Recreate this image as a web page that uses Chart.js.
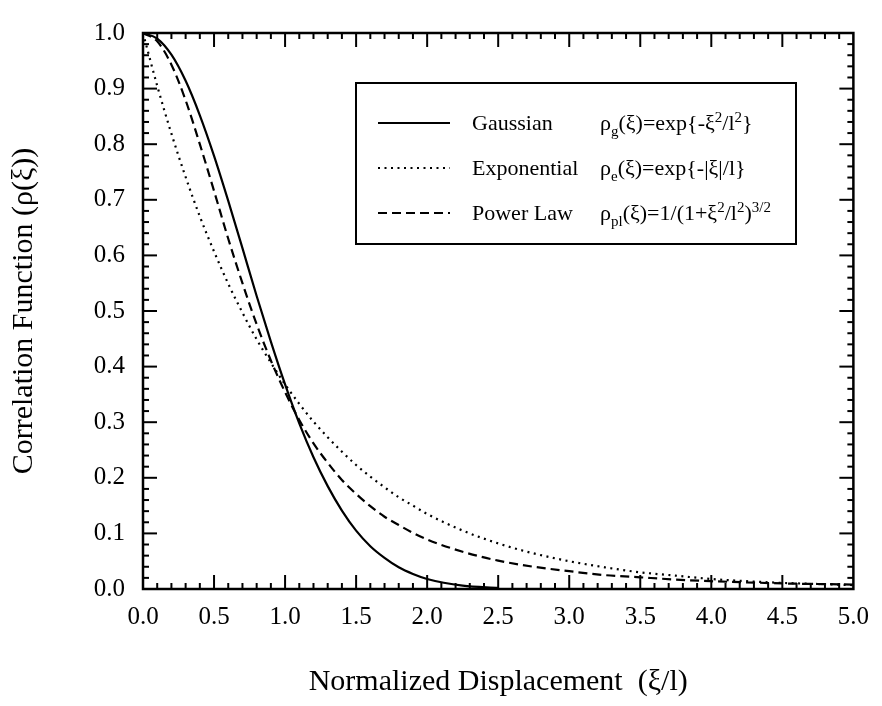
<!DOCTYPE html>
<html>
<head>
<meta charset="utf-8">
<script src="https://cdn.jsdelivr.net/npm/chart.js@4.4.0/dist/chart.umd.min.js"></script>
<style>
  html, body { margin: 0; padding: 0; background: #fff; }
</style>
</head>
<body>
<canvas id="myChart" width="882" height="706"></canvas>
<script>
const xs = [0, 0.1, 0.2, 0.3, 0.4, 0.5, 0.6, 0.7, 0.8, 0.9,
            1.0, 1.1, 1.2, 1.3, 1.4, 1.5, 1.6, 1.7, 1.8, 1.9,
            2.0, 2.25, 2.5, 2.75, 3.0, 3.25, 3.5, 3.75, 4.0, 4.25,
            4.5, 4.75, 5.0];

// Gaussian - stops once it sits on the axis
const gaussian = [1.0, 0.990, 0.961, 0.914, 0.852, 0.779, 0.698, 0.613, 0.527, 0.445,
                  0.368, 0.298, 0.237, 0.185, 0.141, 0.105, 0.077, 0.056, 0.039, 0.027,
                  0.018, 0.006, 0.002, null, null, null, null, null, null, null,
                  null, null, null];

const exponential = [1.0, 0.905, 0.819, 0.741, 0.670, 0.607, 0.549, 0.497, 0.449, 0.407,
                     0.368, 0.333, 0.301, 0.273, 0.247, 0.223, 0.202, 0.183, 0.165, 0.150,
                     0.135, 0.105, 0.082, 0.064, 0.050, 0.039, 0.030, 0.024, 0.018, 0.014,
                     0.011, 0.009, 0.007];

const powerLaw = [1.0, 0.985, 0.943, 0.879, 0.800, 0.716, 0.630, 0.550, 0.476, 0.411,
                  0.354, 0.304, 0.262, 0.227, 0.196, 0.171, 0.149, 0.130, 0.115, 0.101,
                  0.089, 0.067, 0.051, 0.040, 0.032, 0.025, 0.021, 0.017, 0.014, 0.012,
                  0.010, 0.009, 0.008];

const seriesNames = ['Gaussian', 'Exponential', 'Power Law'];

// formulas as runs of text, s = sub / sup
const formulas = [
  [{t: 'ρ'}, {t: 'g', s: 'sub'}, {t: '(ξ)=exp{-ξ'}, {t: '2', s: 'sup'}, {t: '/l'}, {t: '2', s: 'sup'}, {t: '}'}],
  [{t: 'ρ'}, {t: 'e', s: 'sub'}, {t: '(ξ)=exp{-|ξ|/l}'}],
  [{t: 'ρ'}, {t: 'pl', s: 'sub'}, {t: '(ξ)=1/(1+ξ'}, {t: '2', s: 'sup'}, {t: '/l'}, {t: '2', s: 'sup'}, {t: ')'}, {t: '3/2', s: 'sup'}]
];

const SERIF = '"Liberation Serif", "Times New Roman", serif';
const dashes = [[], [2, 4.5], [9, 5]];

let pts = (arr) => xs.map((x, i) => ({x: x, y: arr[i]})).filter(p => p.y !== null);

let framePlugin = {
  id: 'frame',
  afterDatasetsDraw(chart) {
    const {ctx, chartArea: a, scales: {x, y}} = chart;
    ctx.save();
    ctx.strokeStyle = '#000';
    ctx.lineWidth = 2;
    ctx.lineCap = 'butt';
    let seg = (x1, y1, x2, y2) => { ctx.beginPath(); ctx.moveTo(x1, y1); ctx.lineTo(x2, y2); ctx.stroke(); };

    /* TICKS HACIA DENTRO EN LOS CUATRO LADOS */
    for (let i = 1; i < 50; i++) {
      const px = x.getPixelForValue(i / 10);
      const len = i % 5 === 0 ? 14 : 6;
      seg(px, a.bottom, px, a.bottom - len);
      seg(px, a.top, px, a.top + len);
    }
    for (let i = 1; i < 50; i++) {
      const py = y.getPixelForValue(i / 50);
      const len = i % 5 === 0 ? 14 : 6;
      seg(a.left, py, a.left + len, py);
      seg(a.right, py, a.right - len, py);
    }
    ctx.lineWidth = 2.5;
    ctx.strokeRect(a.left, a.top, a.width, a.height);

    /* LEYENDA */
    const box = {l: 356, t: 83, r: 796, b: 244};
    ctx.fillStyle = '#fff';
    ctx.fillRect(box.l, box.t, box.r - box.l, box.b - box.t);
    ctx.lineWidth = 2;
    ctx.strokeRect(box.l, box.t, box.r - box.l, box.b - box.t);
    const rows = [123, 168, 213];
    ctx.fillStyle = '#000';
    ctx.textBaseline = 'alphabetic';
    ctx.textAlign = 'left';
    rows.forEach((ry, i) => {
      ctx.setLineDash(dashes[i]);
      ctx.lineWidth = 2;
      seg(378, ry, 450, ry);
      ctx.setLineDash([]);
      ctx.font = '22px ' + SERIF;
      ctx.fillText(seriesNames[i], 472, ry + 7);
      let cx = 600;
      formulas[i].forEach(r => {
        const size = r.s ? 15 : 22;
        ctx.font = size + 'px ' + SERIF;
        const dy = r.s === 'sub' ? 6 : (r.s === 'sup' ? -8 : 0);
        ctx.fillText(r.t, cx, ry + 7 + dy);
        cx += ctx.measureText(r.t).width;
      });
    });
    ctx.restore();
  }
};

const ctx = document.getElementById('myChart');
const config = {
  type: 'line',
  data: {
    datasets: seriesNames.map((name, i) => ({
      label: name,
      data: pts([gaussian, exponential, powerLaw][i]),
      borderColor: '#000',
      borderWidth: 2.2,
      borderDash: dashes[i],
      pointRadius: 0,
      fill: false,
      cubicInterpolationMode: 'monotone'
    }))
  },
  options: {
    responsive: false,
    animation: false,
    devicePixelRatio: 1,
    layout: { padding: { left: 0, right: 23, top: 16, bottom: 0 } },
    plugins: { legend: { display: false }, tooltip: { enabled: false } },
    scales: {
      x: {
        type: 'linear', min: 0, max: 5,
        grid: { display: false, drawTicks: false },
        border: { display: false },
        ticks: { stepSize: 0.5, padding: 13, color: '#000', font: { family: SERIF, size: 25 },
                 maxRotation: 0, callback: v => v.toFixed(1) },
        title: { display: true, text: 'Normalized Displacement  (ξ/l)', color: '#000',
                 font: { family: SERIF, size: 30 }, padding: { top: 0, bottom: 6 } },
        afterFit: s => { s.height = 117; }
      },
      y: {
        type: 'linear', min: 0, max: 1,
        grid: { display: false, drawTicks: false },
        border: { display: false },
        ticks: { stepSize: 0.1, padding: 18, color: '#000', font: { family: SERIF, size: 25 },
                 callback: v => v.toFixed(1) },
        title: { display: true, text: 'Correlation Function (ρ(ξ))', color: '#000',
                 font: { family: SERIF, size: 30 }, padding: { top: 6, bottom: 0 } },
        afterFit: s => { s.width = 143; }
      }
    }
  },
  plugins: [framePlugin]
};
let chart = new Chart(ctx, config);
</script>
</body>
</html>
